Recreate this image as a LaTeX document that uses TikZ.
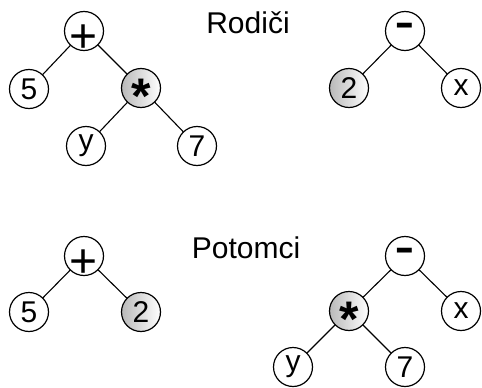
\documentclass[tikz,border=0pt]{standalone}
\usepackage{fontspec}
\setmainfont{Liberation Sans}
\begin{document}
\begin{tikzpicture}[x=1pt,y=-1pt,
  nd/.style={circle,draw=black,line width=1.2pt,minimum size=39pt,inner sep=0pt,fill=white,
    font=\fontsize{30}{36}\selectfont},
  gnd/.style={nd,left color=gray!55,right color=white},
  edge/.style={line width=1.1pt},
  ttl/.style={anchor=base,font=\fontsize{30}{36}\selectfont}]
\newcommand{\opplus}{\smash{\raisebox{-21pt}{\fontsize{48}{50}\selectfont +}}}
\newcommand{\opstar}{\smash{\raisebox{-25pt}{\fontsize{50}{54}\selectfont\bfseries *}}}
\newcommand{\opminus}{\smash{\raisebox{-7pt}{\scalebox{1}[1.6]{\fontsize{30}{36}\selectfont\bfseries –}}}}
\useasboundingbox (0,0) rectangle (482,388);
% top left
\node[nd] (p1) at (84,31) {\opplus};
\node[nd] (a5) at (29,89) {5};
\node[gnd] (m1) at (141,88) {\opstar};
\node[nd] (ay) at (86,146) {y};
\node[nd] (a7) at (197,146) {7};
\draw[edge] (p1) -- (a5); \draw[edge] (p1) -- (m1);
\draw[edge] (m1) -- (ay); \draw[edge] (m1) -- (a7);
% top right
\node[nd] (s1) at (405,31) {\opminus};
\node[gnd] (b2) at (349,88) {2};
\node[nd] (bx) at (461,88) {x};
\draw[edge] (s1) -- (b2); \draw[edge] (s1) -- (bx);
% titles
\node[ttl] (t1) at (248,33) {Rodiči};
\node[ttl] (t2) at (246,258) {Potomci};
% bottom left
\node[nd] (p2) at (84,256) {\opplus};
\node[nd] (c5) at (29,312) {5};
\node[gnd] (c2) at (141,312) {2};
\draw[edge] (p2) -- (c5); \draw[edge] (p2) -- (c2);
% bottom right
\node[nd] (s2) at (405,256) {\opminus};
\node[gnd] (m2) at (349,311) {\opstar};
\node[nd] (dx) at (461,311) {x};
\node[nd] (dy) at (293,367) {y};
\node[nd] (d7) at (405,367) {7};
\draw[edge] (s2) -- (m2); \draw[edge] (s2) -- (dx);
\draw[edge] (m2) -- (dy); \draw[edge] (m2) -- (d7);
\end{tikzpicture}
\end{document}
